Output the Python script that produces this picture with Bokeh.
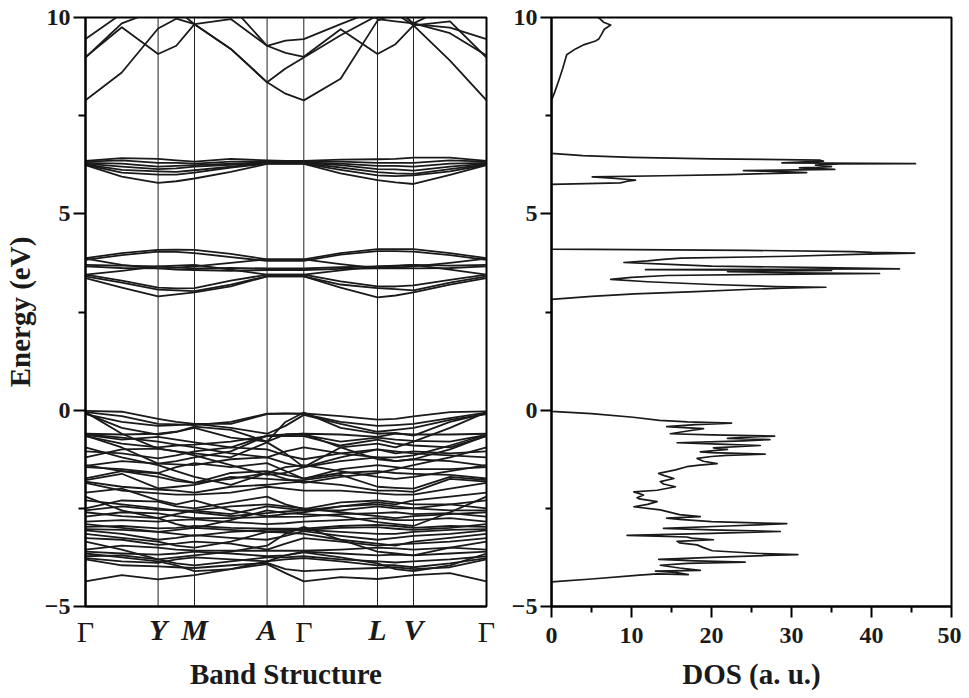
from bokeh.plotting import figure
from bokeh.layouts import row
from bokeh.models import Range1d, FixedTicker, Span, LinearAxis
from bokeh.embed import file_html
from bokeh.resources import INLINE

# ---------------- data ----------------
k_nodes = [0.0, 0.726, 1.09, 1.816, 2.183, 2.92, 3.28, 4.01]
node_labels = ["Γ", "Y", "M", "A", "Γ", "L", "V", "Γ"]
k_samples = [0.0, 0.363, 0.726, 0.908, 1.09, 1.453, 1.816, 2.0, 2.183,
             2.551, 2.92, 3.10, 3.28, 3.645, 4.01]

conduction_bands = [
    [7.89, 8.6, 9.72, 9.97, 9.83, 9.2, 8.35, 8.06, 7.89, 8.44, 9.92, 10.1, 9.8, 8.9, 7.89],
    [8.99, 9.75, 9.07, 9.28, 9.83, 9.96, 9.28, 9.41, 9.45, 9.83, 10.2, 10.3, 9.83, 9.74, 9.45],
    [8.98, 9.85, 10.2, 10.3, 10.3, 10.3, 9.28, 9.1, 9.0, 9.7, 9.07, 9.32, 9.8, 9.9, 8.98],
    [9.45, 10.1, 10.4, 10.2, 9.83, 9.2, 8.35, 8.7, 8.98, 9.55, 10.05, 10.2, 9.85, 9.6, 9.03],
    [10.5, 10.5, 10.5, 10.5, 10.5, 10.5, 10.5, 10.5, 10.5, 10.5, 9.96, 9.9, 9.85, 10.3, 10.5],
]

band_6ev = [
    [6.35, 6.42, 6.40, 6.36, 6.33, 6.40, 6.36, 6.35, 6.35, 6.38, 6.39, 6.40, 6.43, 6.43, 6.35],
    [6.33, 6.36, 6.30, 6.30, 6.28, 6.33, 6.34, 6.33, 6.33, 6.33, 6.30, 6.30, 6.30, 6.36, 6.33],
    [6.30, 6.28, 6.20, 6.22, 6.24, 6.28, 6.31, 6.31, 6.31, 6.28, 6.22, 6.22, 6.20, 6.28, 6.30],
    [6.28, 6.20, 6.14, 6.16, 6.20, 6.25, 6.30, 6.30, 6.30, 6.24, 6.14, 6.13, 6.10, 6.20, 6.28],
    [6.26, 6.12, 6.08, 6.07, 6.11, 6.20, 6.29, 6.29, 6.29, 6.18, 6.06, 6.03, 6.02, 6.14, 6.26],
    [6.25, 6.05, 6.00, 6.00, 6.05, 6.18, 6.28, 6.28, 6.28, 6.12, 5.98, 5.96, 5.98, 6.08, 6.25],
    [6.24, 5.95, 5.79, 5.83, 5.90, 6.07, 6.27, 6.27, 6.27, 6.03, 5.86, 5.80, 5.76, 5.99, 6.24],
]

band_3ev = [
    [3.87, 4.00, 4.08, 4.09, 4.08, 3.98, 3.84, 3.84, 3.84, 4.00, 4.10, 4.10, 4.10, 4.00, 3.87],
    [3.83, 3.95, 4.04, 4.03, 4.00, 3.90, 3.80, 3.80, 3.80, 3.96, 4.05, 4.05, 4.04, 3.95, 3.83],
    [3.70, 3.68, 3.66, 3.63, 3.61, 3.62, 3.61, 3.61, 3.61, 3.64, 3.66, 3.67, 3.70, 3.68, 3.70],
    [3.66, 3.62, 3.61, 3.58, 3.57, 3.55, 3.57, 3.57, 3.57, 3.60, 3.61, 3.62, 3.61, 3.62, 3.66],
    [3.45, 3.30, 3.12, 3.10, 3.11, 3.30, 3.45, 3.45, 3.45, 3.28, 3.15, 3.15, 3.18, 3.32, 3.45],
    [3.41, 3.25, 3.07, 3.05, 3.03, 3.20, 3.41, 3.41, 3.41, 3.20, 3.11, 3.08, 3.05, 3.25, 3.41],
    [3.36, 3.12, 2.90, 2.95, 3.00, 3.15, 3.41, 3.41, 3.41, 3.12, 2.87, 2.92, 3.00, 3.20, 3.36],
    [3.86, 3.70, 3.61, 3.63, 3.66, 3.75, 3.84, 3.84, 3.84, 3.72, 3.62, 3.63, 3.66, 3.75, 3.86],
    [3.45, 3.55, 3.66, 3.68, 3.70, 3.58, 3.45, 3.45, 3.45, 3.56, 3.66, 3.68, 3.70, 3.58, 3.45],
]

valence_bands = [
    [-0.02, -0.04, -0.22, -0.30, -0.35, -0.35, -0.10, -0.09, -0.08, -0.15, -0.24, -0.22, -0.16, -0.05, -0.03],
    [-0.05, -0.15, -0.35, -0.36, -0.38, -0.30, -0.09, -0.08, -0.10, -0.30, -0.40, -0.38, -0.35, -0.20, -0.06],
    [-0.08, -0.45, -0.62, -0.55, -0.42, -0.50, -0.80, -0.30, -0.06, -0.45, -0.60, -0.58, -0.65, -0.30, -0.08],
    [-0.60, -0.62, -0.60, -0.55, -0.45, -0.70, -0.80, -0.62, -0.60, -0.62, -0.68, -0.60, -0.62, -0.62, -0.60],
    [-0.63, -0.75, -0.68, -0.75, -0.82, -0.95, -0.65, -0.63, -0.63, -0.80, -0.70, -0.75, -0.78, -0.80, -0.63],
    [-0.66, -0.85, -0.95, -0.90, -0.88, -0.80, -0.66, -0.66, -0.66, -0.90, -0.75, -0.85, -0.90, -0.95, -0.66],
    [-0.05, -0.60, -0.98, -1.05, -1.10, -1.20, -0.82, -1.10, -1.45, -0.95, -0.85, -0.95, -0.80, -0.45, -0.05],
    [-1.05, -1.10, -1.23, -1.15, -1.05, -0.95, -1.00, -1.15, -1.25, -1.10, -1.00, -1.10, -1.05, -1.10, -1.05],
    [-1.42, -1.30, -1.36, -1.38, -1.40, -1.25, -1.20, -1.35, -1.45, -1.30, -1.20, -1.30, -1.25, -1.30, -1.42],
    [-1.45, -1.50, -1.60, -1.45, -1.35, -1.45, -1.35, -1.55, -1.75, -1.50, -1.40, -1.45, -1.50, -1.50, -1.45],
    [-1.74, -1.55, -1.61, -1.75, -1.85, -1.60, -1.55, -1.65, -1.74, -1.60, -1.55, -1.60, -1.62, -1.65, -1.74],
    [-1.78, -1.62, -1.99, -1.95, -1.90, -1.70, -1.75, -1.78, -1.78, -1.65, -1.95, -1.98, -2.00, -1.70, -1.78],
    [-1.82, -1.95, -2.02, -2.05, -2.10, -1.95, -1.90, -1.85, -1.82, -1.90, -2.05, -2.05, -2.08, -1.75, -1.82],
    [-1.85, -2.05, -2.12, -2.15, -2.15, -2.10, -1.95, -2.00, -2.05, -2.05, -2.12, -2.15, -2.15, -2.00, -1.85],
    [-2.50, -2.30, -2.33, -2.45, -2.50, -2.35, -2.20, -2.40, -2.52, -2.35, -2.30, -2.35, -2.40, -2.40, -2.50],
    [-2.55, -2.45, -2.54, -2.55, -2.56, -2.65, -2.45, -2.50, -2.55, -2.55, -2.45, -2.50, -2.50, -2.55, -2.55],
    [-2.71, -2.60, -2.63, -2.70, -2.75, -2.75, -2.72, -2.72, -2.71, -2.65, -2.62, -2.60, -2.65, -2.62, -2.71],
    [-2.84, -2.80, -2.84, -2.80, -2.78, -2.85, -2.90, -2.88, -2.84, -2.80, -2.75, -2.80, -2.80, -2.75, -2.84],
    [-2.97, -2.95, -3.01, -3.00, -2.95, -3.00, -3.02, -3.02, -3.02, -2.95, -2.92, -2.95, -3.00, -2.95, -2.97],
    [-3.03, -3.05, -3.10, -3.15, -3.20, -3.10, -3.05, -3.05, -3.05, -3.10, -3.15, -3.15, -3.10, -3.05, -3.03],
    [-3.06, -3.15, -3.30, -3.25, -3.18, -3.25, -3.30, -3.20, -3.08, -3.20, -3.30, -3.25, -3.20, -3.15, -3.06],
    [-3.26, -3.30, -3.43, -3.40, -3.35, -3.40, -3.55, -3.40, -3.26, -3.35, -3.45, -3.42, -3.40, -3.35, -3.26],
    [-3.55, -3.45, -3.50, -3.55, -3.57, -3.58, -3.58, -3.58, -3.58, -3.55, -3.50, -3.52, -3.55, -3.50, -3.55],
    [-3.60, -3.65, -3.68, -3.65, -3.60, -3.65, -3.72, -3.70, -3.60, -3.65, -3.70, -3.68, -3.70, -3.65, -3.60],
    [-3.72, -3.70, -3.80, -3.90, -3.95, -3.85, -3.75, -3.75, -3.72, -3.80, -3.85, -3.88, -3.85, -3.80, -3.72],
    [-3.77, -3.85, -3.89, -3.80, -3.75, -3.80, -3.85, -3.80, -3.77, -3.85, -3.95, -3.95, -4.00, -3.90, -3.77],
    [-3.80, -3.95, -3.98, -4.00, -4.02, -3.95, -3.89, -4.05, -4.10, -4.05, -4.02, -4.00, -4.05, -4.00, -3.80],
    [-4.36, -4.20, -4.31, -4.25, -4.20, -4.05, -3.92, -4.15, -4.36, -4.25, -4.30, -4.25, -4.20, -4.15, -4.36],
    [-1.20, -1.00, -0.98, -1.05, -1.15, -1.40, -1.65, -1.60, -1.45, -1.20, -1.00, -1.05, -1.10, -1.15, -1.20],
    [-0.95, -1.20, -1.40, -1.55, -1.70, -1.90, -1.60, -1.75, -1.85, -1.70, -1.60, -1.50, -1.40, -1.20, -0.95],
    [-2.10, -2.00, -2.30, -2.40, -2.30, -2.55, -2.70, -2.65, -2.60, -2.45, -2.35, -2.40, -2.30, -2.20, -2.10],
    [-2.20, -2.55, -2.75, -2.90, -3.00, -2.80, -2.55, -2.62, -2.65, -2.70, -2.85, -2.90, -2.95, -2.60, -2.20],
    [-3.35, -3.55, -3.80, -3.75, -3.70, -3.60, -3.45, -3.15, -2.97, -3.30, -3.60, -3.65, -3.70, -3.50, -3.35],
    [-0.65, -0.95, -1.36, -1.30, -1.20, -1.05, -0.65, -0.62, -0.60, -0.95, -1.25, -1.30, -1.25, -1.00, -0.65],
    [-0.62, -0.70, -0.80, -0.88, -0.95, -1.10, -1.20, -1.05, -0.95, -1.10, -1.20, -1.20, -1.15, -0.90, -0.62],
    [-1.40, -1.55, -1.70, -1.80, -1.85, -1.75, -1.60, -1.45, -1.40, -1.55, -1.70, -1.75, -1.70, -1.55, -1.40],
    [-2.60, -2.70, -2.75, -2.65, -2.55, -2.45, -2.40, -2.45, -2.50, -2.60, -2.70, -2.75, -2.70, -2.65, -2.60],
    [-2.90, -3.00, -3.10, -3.05, -3.00, -3.05, -3.10, -3.08, -3.05, -3.00, -2.98, -3.02, -3.05, -3.00, -2.90],
    [-3.15, -3.25, -3.35, -3.45, -3.50, -3.35, -3.10, -3.12, -3.15, -3.30, -3.40, -3.45, -3.35, -3.25, -3.15],
    [-3.65, -3.75, -3.85, -3.95, -4.10, -4.05, -3.85, -3.70, -3.62, -3.75, -3.90, -4.05, -4.10, -3.95, -3.65],
    [-0.10, -0.30, -0.40, -0.38, -0.35, -0.45, -0.60, -0.40, -0.12, -0.35, -0.55, -0.50, -0.45, -0.25, -0.10],
    [-2.30, -2.40, -2.50, -2.55, -2.60, -2.70, -2.62, -2.58, -2.55, -2.45, -2.40, -2.45, -2.50, -2.40, -2.30],
]

dos_energy = [
    -5.0, -4.375, -4.30, -4.20, -4.17, -4.19, -4.13, -4.10, -4.08, -4.02, -3.95, -3.90, -3.87, -3.84,
    -3.80, -3.75, -3.70, -3.68, -3.65, -3.58, -3.50, -3.43, -3.38, -3.34, -3.30, -3.26, -3.23,
    -3.19, -3.14, -3.09, -3.05, -3.01, -2.95, -2.89, -2.84, -2.78, -2.75, -2.71, -2.66, -2.54,
    -2.46, -2.40, -2.33, -2.26, -2.23, -2.16, -2.08, -2.04, -1.95, -1.88, -1.82, -1.74, -1.66,
    -1.61, -1.52, -1.44, -1.40, -1.36, -1.30, -1.23, -1.18, -1.15, -1.12, -1.08, -1.06, -1.00,
    -0.96, -0.90, -0.86, -0.83, -0.78, -0.75, -0.72, -0.68, -0.66, -0.63, -0.60, -0.53, -0.47,
    -0.44, -0.42, -0.37, -0.33, -0.30, -0.26, -0.18, -0.09, -0.03,
    2.82, 2.90, 2.96, 3.02, 3.08, 3.11, 3.13, 3.15, 3.20, 3.27, 3.33, 3.38, 3.43, 3.46, 3.48,
    3.50, 3.53, 3.56, 3.58, 3.60, 3.63, 3.67, 3.72, 3.76, 3.80, 3.84, 3.87, 3.92, 3.97, 4.00,
    4.02, 4.04, 4.07, 4.09, 4.10,
    5.75, 5.79, 5.83, 5.86, 5.90, 5.94, 5.97, 6.00, 6.03, 6.05, 6.08, 6.10, 6.13, 6.17, 6.20,
    6.24, 6.27, 6.28, 6.30, 6.34, 6.37, 6.40, 6.44, 6.48, 6.54,
    7.89, 8.10, 8.39, 8.70, 9.05, 9.20, 9.31, 9.40, 9.45, 9.55, 9.70, 9.81, 9.88, 9.96, 10.0,
]
dos_value = [
    0, 0, 5, 11, 13.2, 17.1, 15.5, 13.0, 18.6, 16, 13.6, 17, 24.2, 18,
    13.4, 20, 26.9, 30.8, 26, 20.1, 19, 18.2, 16, 15.7, 20.25, 17.5, 16.9,
    9.45, 20, 28.6, 20, 14.0, 22, 29.4, 20, 16, 14.4, 18.6, 16, 13.6,
    10.3, 12, 13.2, 11, 10.7, 11.5, 10.3, 13.2, 15.5, 14, 13.6, 15.3, 14,
    13.4, 15.5, 16.9, 18.5, 20.7, 19, 18.2, 20, 21.9, 26.7, 20, 18.6, 22,
    20.25, 26.1, 20, 15.7, 24, 27.3, 22, 25.2, 27.9, 20, 14.85, 17, 19.0,
    16, 14.4, 18, 22.5, 17, 13.5, 10.2, 5.0, 0,
    0, 5, 10.4, 18, 25, 28.9, 34.3, 28, 20, 12, 7.4, 10, 14.4, 28, 41.0,
    30, 22, 35, 11.75, 43.5, 34, 20, 14, 9.05, 12, 14, 16.1, 30, 38, 45.4,
    40, 37.7, 24.4, 10, 0,
    0, 8.6, 9.5, 10.5, 8, 5.1, 14, 22.3, 28, 31.9, 28, 24.0, 35.4, 31, 35,
    33, 36, 45.5, 28.8, 34, 33.5, 20, 10, 3.9, 0,
    0, 0.4, 0.9, 1.4, 1.9, 3, 4.1, 5.5, 5.9, 6.2, 6.6, 7.4, 6.5, 6.1, 5.8,
]

energy_ticks = [-5, 0, 5, 10]
energy_minor = [-2.5, 2.5, 7.5]
dos_ticks = [0, 10, 20, 30, 40, 50]
dos_minor = [5, 15, 25, 35, 45]

SERIF = "Liberation Serif"
INK = "#1a1a1a"
H = 697
TOP = 17
BOTTOM = 91

# ---------------- band structure ----------------
all_bands = conduction_bands + band_6ev + band_3ev + valence_bands

p1 = figure(width=507, height=H, x_range=Range1d(k_nodes[0], k_nodes[-1]),
            y_range=Range1d(-5, 10), output_backend="svg", toolbar_location=None,
            min_border_left=85, min_border_right=21, min_border_top=TOP, min_border_bottom=BOTTOM)
p1.grid.visible = False
p1.outline_line_color = "black"
p1.outline_line_width = 2

for kx in k_nodes[1:-1]:
    p1.add_layout(Span(location=kx, dimension="height", line_color="#222222", line_width=1))

p1.multi_line(xs=[k_samples] * len(all_bands), ys=all_bands, line_color=INK,
              line_width=1.8, line_join="round")

# inner axis: upright Gamma labels
gamma_ticks = [k for k, lab in zip(k_nodes, node_labels) if lab == "Γ"]
p1.xaxis.ticker = FixedTicker(ticks=gamma_ticks)
p1.xaxis.major_label_overrides = {k: "Γ" for k in gamma_ticks}
p1.xaxis.major_label_text_font = SERIF
p1.xaxis.major_label_text_font_style = "normal"
p1.xaxis.major_label_text_font_size = "30px"
p1.xaxis.major_label_text_color = INK
p1.xaxis.major_label_standoff = 2
p1.xaxis.major_tick_line_color = None
p1.xaxis.minor_tick_line_color = None
p1.xaxis.axis_line_width = 2

# outer axis: italic point labels, pulled up to the same row
italic_ticks = [k for k, lab in zip(k_nodes, node_labels) if lab != "Γ"]
ax2 = LinearAxis(ticker=FixedTicker(ticks=italic_ticks),
                 major_label_overrides={k: lab for k, lab in zip(k_nodes, node_labels) if lab != "Γ"})
ax2.major_label_text_font = SERIF
ax2.major_label_text_font_style = "bold italic"
ax2.major_label_text_font_size = "30px"
ax2.major_label_text_color = INK
ax2.major_label_standoff = -44
ax2.major_tick_line_color = None
ax2.minor_tick_line_color = None
ax2.axis_line_color = None
ax2.axis_label = "Band Structure"
ax2.axis_label_text_font = SERIF
ax2.axis_label_text_font_style = "bold"
ax2.axis_label_text_font_size = "29px"
ax2.axis_label_text_color = INK
ax2.axis_label_standoff = 9
p1.add_layout(ax2, "below")

p1.yaxis.ticker = FixedTicker(ticks=energy_ticks, minor_ticks=energy_minor)
p1.yaxis.major_label_text_font = SERIF
p1.yaxis.major_label_text_font_style = "bold"
p1.yaxis.major_label_text_font_size = "24px"
p1.yaxis.major_label_text_color = INK
p1.yaxis.major_label_standoff = 3
p1.yaxis.major_tick_out = 12
p1.yaxis.major_tick_in = 0
p1.yaxis.minor_tick_out = 7
p1.yaxis.minor_tick_in = 0
p1.yaxis.major_tick_line_width = 2
p1.yaxis.minor_tick_line_width = 2
p1.yaxis.axis_line_width = 2
p1.yaxis.axis_label = "Energy (eV)"
p1.yaxis.axis_label_text_font = SERIF
p1.yaxis.axis_label_text_font_style = "bold"
p1.yaxis.axis_label_text_font_size = "29px"
p1.yaxis.axis_label_text_color = INK
p1.yaxis.axis_label_standoff = 6

# ---------------- DOS ----------------
p2 = figure(width=454, height=H, x_range=Range1d(0, 50), y_range=Range1d(-5, 10),
            output_backend="svg", toolbar_location=None,
            min_border_left=44, min_border_right=10, min_border_top=TOP, min_border_bottom=BOTTOM)
p2.grid.visible = False
p2.outline_line_color = "black"
p2.outline_line_width = 2

p2.line(dos_value, dos_energy, line_color=INK, line_width=1.7, line_join="round")

p2.xaxis.ticker = FixedTicker(ticks=dos_ticks, minor_ticks=dos_minor)
p2.yaxis.ticker = FixedTicker(ticks=energy_ticks, minor_ticks=energy_minor)
for ax in (p2.xaxis, p2.yaxis):
    ax.major_label_text_font = SERIF
    ax.major_label_text_font_style = "bold"
    ax.major_label_text_font_size = "24px"
    ax.major_label_text_color = INK
    ax.major_label_standoff = 3
    ax.major_tick_out = 11
    ax.major_tick_in = 0
    ax.minor_tick_out = 6
    ax.minor_tick_in = 0
    ax.major_tick_line_width = 2
    ax.minor_tick_line_width = 2
    ax.axis_line_width = 2
p2.xaxis.major_label_standoff = 10
p2.xaxis.axis_label = "DOS (a. u.)"
p2.xaxis.axis_label_text_font = SERIF
p2.xaxis.axis_label_text_font_style = "bold"
p2.xaxis.axis_label_text_font_size = "29px"
p2.xaxis.axis_label_text_color = INK
p2.xaxis.axis_label_standoff = 12

layout = row(p1, p2)
open("out.html", "w").write(file_html(layout, INLINE))
